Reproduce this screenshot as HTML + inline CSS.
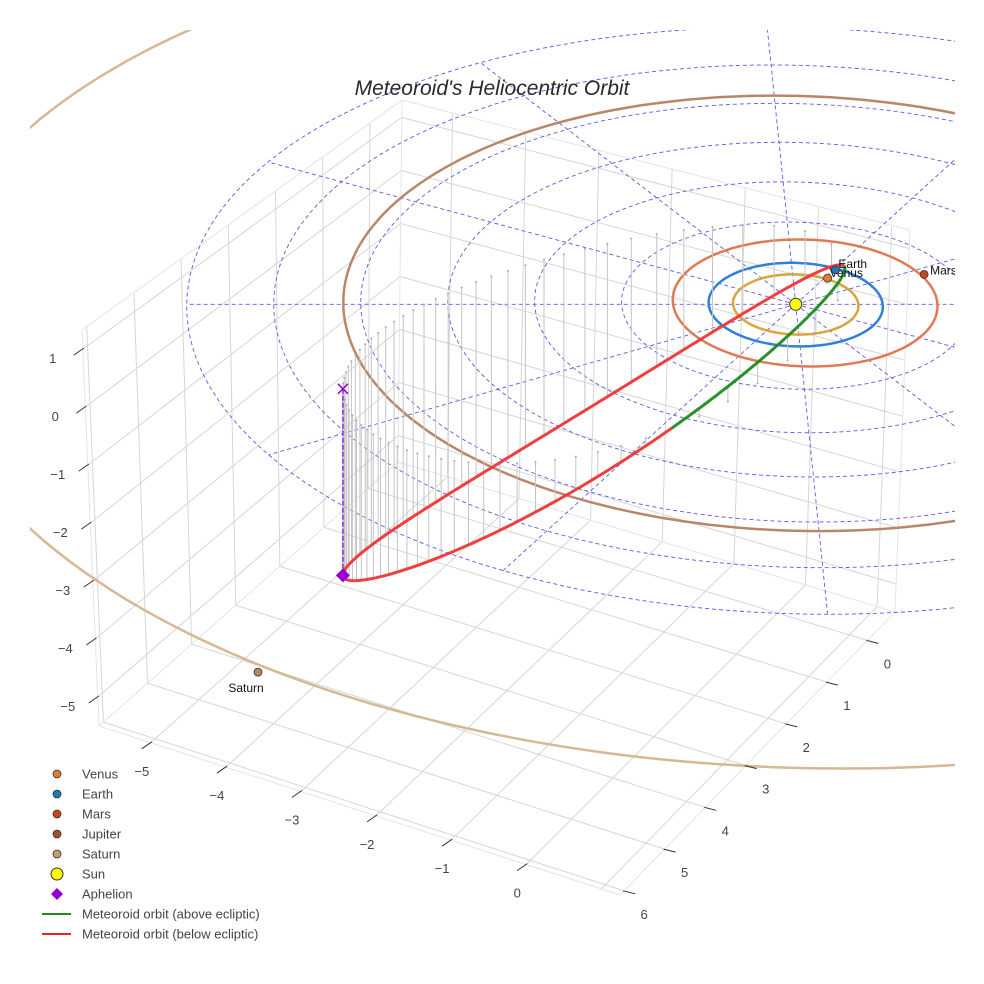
<!DOCTYPE html>
<html><head><meta charset="utf-8"><style>
html,body{margin:0;padding:0;background:#fff;}
svg{display:block;font-family:"Liberation Sans",sans-serif;}
</style></head><body>
<svg id="chart" width="984" height="984" viewBox="0 0 984 984" xmlns="http://www.w3.org/2000/svg">
<defs><clipPath id="plotclip"><rect x="30" y="30" width="925" height="940"/></clipPath></defs>
<rect width="984" height="984" fill="#fff"/>
<g id="box"></g>
<g id="plot" clip-path="url(#plotclip)"></g>
<g id="ticks"></g>
<text x="492" y="95" text-anchor="middle" font-size="21" font-style="italic" fill="#2a2a2a">Meteoroid's Heliocentric Orbit</text>
<g id="legend"></g>
</svg>
<script>
// ---- data ----
const xTicks=[-5,-4,-3,-2,-1,0];
const yTicks=[0,1,2,3,4,5,6];
const zTicks=[1,0,-1,-2,-3,-4,-5];
const xGrid=[-5,-4,-3,-2,-1,0,1];
const planetNames=['Venus','Earth','Mars','Saturn'];
const planetX=[0.40,0.50,1.52,-6.18];
const planetY=[-0.63,-0.83,-0.72,8.22];
const planetColors=['#d9822b','#1f77b4','#c8471a','#b08a5e'];
const orbitNames=['venus','earth','mars','jupiter','saturn'];
const orbitRadius=[0.72,1.0,1.52,5.2,10.0];
const orbitCX=[0,0,0.11,0,0];
const orbitCY=[0,0,-0.05,0,0.2];
const orbitColors=['#d9a441','#2f80d8','#e07a55','#b8876a','#d6b892'];
const gridRadii=[1,2,3,4,5,6,7];
const gridAngles=[0,30,60,90,120,150,180,210,240,270,300,330];
const periPoint=[0.61,-0.87,0.02];
const aphPoint=[-5.22,1.99,-3.22];
const minorAxis=[0,-2.39,-1.225];
const sagVector=[0,0.45,0];
const eccentricity=[0.7];

// ---- projections ----
const SVGNS='http://www.w3.org/2000/svg';
function proj(X,Y,Z){const s=1/(1-0.008*Y);return [795.7+s*(87*X+4.3*Y),304.3+s*(41.8*Y-57*Z)];}
const xmin=-5.69,xmax=1.25,ymin=-0.68,ymax=6.1,zmin=-5.5,zmax=1.33;
const cB=[99,726],cA=[620,895],cC=[895,612],cD=[398,462];
const tB=[82,330],tA=[622,470],tC=[910,230],tD=[402,100];
function lerp(a,b,t){return [a[0]+(b[0]-a[0])*t,a[1]+(b[1]-a[1])*t];}
function box(x,y,z){const u=(x-xmin)/(xmax-xmin),v=(y-ymin)/(ymax-ymin),w=(z-zmin)/(zmax-zmin);
 const b=lerp(lerp(cD,cC,u),lerp(cB,cA,u),v);const t=lerp(lerp(tD,tC,u),lerp(tB,tA,u),v);return lerp(b,t,w);}
function el(tag,attrs,parent){const e=document.createElementNS(SVGNS,tag);for(const k in attrs)e.setAttribute(k,attrs[k]);parent.appendChild(e);return e;}
function line(p,q,attrs,parent){return el('line',Object.assign({x1:p[0].toFixed(1),y1:p[1].toFixed(1),x2:q[0].toFixed(1),y2:q[1].toFixed(1)},attrs),parent);}
function pathOf(pts){return pts.map((p,i)=>(i?'L':'M')+p[0].toFixed(1)+' '+p[1].toFixed(1)).join('');}

const gBox=document.getElementById('box'),gPlot=document.getElementById('plot'),gTicks=document.getElementById('ticks'),gLeg=document.getElementById('legend');
const gridStyle={stroke:'#d6d6d6','stroke-width':1};
xGrid.forEach(x=>{const l=line(box(x,ymin,zmin),box(x,ymax,zmin),gridStyle,gBox);
});
yTicks.forEach(y=>{const l=line(box(xmin,y,zmin),box(xmax,y,zmin),gridStyle,gBox);
});
xGrid.forEach(x=>{const l=line(box(x,ymin,zmin),box(x,ymin,zmax),gridStyle,gBox);
});
zTicks.forEach(z=>{const l=line(box(xmin,ymin,z),box(xmax,ymin,z),gridStyle,gBox);
});
yTicks.forEach(y=>{const l=line(box(xmin,y,zmin),box(xmin,y,zmax),gridStyle,gBox);
});
zTicks.forEach(z=>{const l=line(box(xmin,ymin,z),box(xmin,ymax,z),gridStyle,gBox);
});
[[cB,cA],[cA,cC],[cB,tB],[cD,tD],[cC,tC],[tB,tD],[tD,tC],[cB,cD],[cD,cC]].forEach(e=>{const l=line(e[0],e[1],{stroke:'#e4e4e4','stroke-width':1},gBox);
});

xTicks.forEach(x=>{const p=box(x,ymax,zmin);
 const m=line([p[0]+1,p[1]-1],[p[0]-9,p[1]+6],{stroke:'#333','stroke-width':1},gTicks);
 
 const t=el('text',{x:(p[0]-9).toFixed(1),y:(p[1]+33).toFixed(1),'text-anchor':'middle','font-size':13,fill:'#444'},gTicks);
 t.textContent=(x<0?'\u2212'+(-x):String(x));
 });
yTicks.forEach(y=>{const p=box(xmax,y,zmin);
 const m=line([p[0]-1,p[1]],[p[0]+11,p[1]+3],{stroke:'#333','stroke-width':1},gTicks);
 
 const t=el('text',{x:(p[0]+20).toFixed(1),y:(p[1]+28).toFixed(1),'text-anchor':'middle','font-size':13,fill:'#444'},gTicks);
 t.textContent=String(y);
 });
zTicks.forEach(z=>{const p=box(xmin,ymax,z);
 const m=line([p[0]+1,p[1]-1],[p[0]-9,p[1]+6],{stroke:'#333','stroke-width':1},gTicks);
 
 const t=el('text',{x:(p[0]-30).toFixed(1),y:(p[1]+14).toFixed(1),'text-anchor':'middle','font-size':13,fill:'#444'},gTicks);
 t.textContent=(z<0?'\u2212'+(-z):String(z));
 });

gridRadii.forEach(r=>{const pts=[];for(let i=0;i<=180;i++){const a=i/180*2*Math.PI;pts.push(proj(r*Math.cos(a),r*Math.sin(a),0));}
 const p=el('path',{d:pathOf(pts),fill:'none',stroke:'#5a5ae6','stroke-width':0.9,'stroke-dasharray':'4,3'},gPlot);
 });
const rMax=gridRadii[gridRadii.length-1];
gridAngles.forEach(d=>{const a=d*Math.PI/180;const pts=[];for(let i=0;i<=20;i++){const r=rMax*i/20;pts.push(proj(r*Math.cos(a),r*Math.sin(a),0));}
 const p=el('path',{d:pathOf(pts),fill:'none',stroke:'#5a5ae6','stroke-width':0.9,'stroke-dasharray':'4,3'},gPlot);
 });

orbitRadius.forEach((r,k)=>{const pts=[];for(let i=0;i<=240;i++){const a=i/240*2*Math.PI;pts.push(proj(orbitCX[k]+r*Math.cos(a),orbitCY[k]+r*Math.sin(a),0));}
 const p=el('path',{d:pathOf(pts),fill:'none',stroke:orbitColors[k],'stroke-width':2.5},gPlot);
 });

const C=[0,1,2].map(i=>(periPoint[i]+aphPoint[i])/2);
const A=[0,1,2].map(i=>(periPoint[i]-aphPoint[i])/2);
function orbitPt(t){const s2=Math.sin(t)*Math.sin(t);return [0,1,2].map(i=>C[i]+A[i]*Math.cos(t)+minorAxis[i]*Math.sin(t)+sagVector[i]*s2);}
const NS=70;
for(let i=0;i<NS;i++){const M=i/NS*2*Math.PI;let E=M;for(let k=0;k<30;k++)E=M+eccentricity[0]*Math.sin(E);
 const P=orbitPt(E);const a=proj(P[0],P[1],P[2]),b=proj(P[0],P[1],0);
 const l=line(a,b,{stroke:'#c4c4c4','stroke-width':1},gPlot);
 
 const c=el('circle',{cx:b[0].toFixed(1),cy:b[1].toFixed(1),r:1,fill:'#aaa'},gPlot);
 }
const NT=400;let seg=[],segUp=null;
function flush(){if(seg.length>1){const p=el('path',{d:pathOf(seg),fill:'none',stroke:segUp?'#1f8a1f':'#ee3535','stroke-width':3,'stroke-linejoin':'round','stroke-opacity':0.95},gPlot);
 }}
for(let i=0;i<=NT;i++){const t=-Math.PI+i/NT*2*Math.PI;const P=orbitPt(t);const up=P[2]>=0;const s=proj(P[0],P[1],P[2]);
 if(segUp===null)segUp=up;
 if(up!==segUp){seg.push(s);flush();seg=[s];segUp=up;}else seg.push(s);}
flush();

const aTop=proj(aphPoint[0],aphPoint[1],0),aBot=proj(aphPoint[0],aphPoint[1],aphPoint[2]);
const stem=line(aTop,aBot,{stroke:'#8a2be2','stroke-width':1.5,'stroke-dasharray':'5,2'},gPlot);

const xm=el('path',{d:`M${aTop[0]-5} ${aTop[1]-5}L${aTop[0]+5} ${aTop[1]+5}M${aTop[0]-5} ${aTop[1]+5}L${aTop[0]+5} ${aTop[1]-5}`,stroke:'#9400d3','stroke-width':1.5,fill:'none'},gPlot);

const dm=el('path',{d:`M${aBot[0]} ${aBot[1]-7}L${aBot[0]+7} ${aBot[1]}L${aBot[0]} ${aBot[1]+7}L${aBot[0]-7} ${aBot[1]}Z`,fill:'#9400d3'},gPlot);


const sp=proj(0,0,0);
const sun=el('circle',{cx:sp[0],cy:sp[1],r:6,fill:'#ffff00',stroke:'#333','stroke-width':1},gPlot);


planetNames.forEach((n,k)=>{const p=proj(planetX[k],planetY[k],0);
 const c=el('circle',{cx:p[0].toFixed(1),cy:p[1].toFixed(1),r:4,fill:planetColors[k],stroke:'#333','stroke-width':0.8},gPlot);
 
 let tx,ty,anc='start';
 if(n==='Saturn'){tx=p[0]-12;ty=p[1]+20;anc='middle';}else if(n==='Earth'){tx=p[0]+3;ty=p[1]-2;}else if(n==='Venus'){tx=p[0]+2;ty=p[1]-1;}else{tx=p[0]+6;ty=p[1]+0;}
 const t=el('text',{x:tx.toFixed(1),y:ty.toFixed(1),'font-size':12,fill:'#111','text-anchor':anc},gPlot);
 t.textContent=n;});

const legNames=['Venus','Earth','Mars','Jupiter','Saturn','Sun','Aphelion','Meteoroid orbit (above ecliptic)','Meteoroid orbit (below ecliptic)'];
const legColors=['#d9822b','#1f77b4','#c8471a','#a0522d','#c69c6d','#ffff00','#9400d3','#1f8a1f','#ee2222'];
legNames.forEach((n,i)=>{const y=774+i*20;
 const g=el('g',{},gLeg);
 if(i<5){el('circle',{cx:57,cy:y,r:4,fill:legColors[i],stroke:'#333','stroke-width':0.8},g);}
 else if(i===5){el('circle',{cx:57,cy:y,r:6,fill:legColors[i],stroke:'#333','stroke-width':1},g);}
 else if(i===6){el('path',{d:`M57 ${y-6}L63 ${y}L57 ${y+6}L51 ${y}Z`,fill:legColors[i]},g);}
 else{el('line',{x1:42,y1:y,x2:71,y2:y,stroke:legColors[i],'stroke-width':2},g);}
 const t=el('text',{x:82,y:y+4.5,'font-size':13,fill:'#444'},g);t.textContent=n;});
</script>
</body></html>
